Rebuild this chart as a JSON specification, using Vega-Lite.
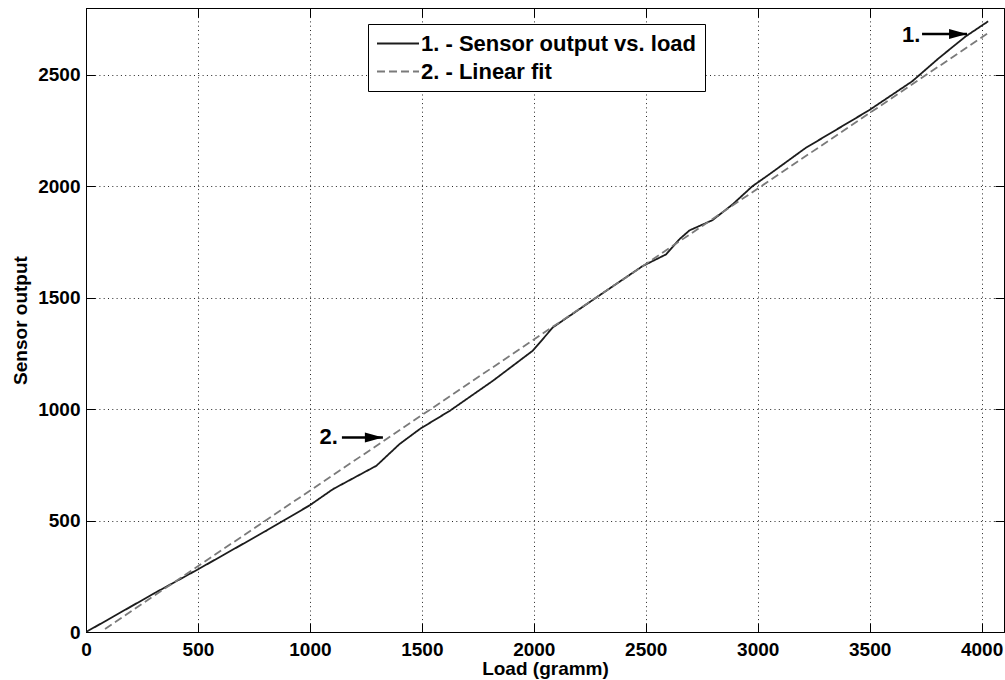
{
  "$schema": "https://vega.github.io/schema/vega-lite/v6.json",
  "autosize": "none",
  "width": 918,
  "height": 624,
  "padding": {"left": 86, "top": 8, "right": 1, "bottom": 48},
  "background": "white",
  "config": {
    "view": {"stroke": "#000", "strokeWidth": 1},
    "font": "Liberation Sans",
    "axis": {
      "labelFont": "Liberation Sans", "labelFontWeight": "bold", "labelFontSize": 19, "labelColor": "#000",
      "titleFont": "Liberation Sans", "titleFontWeight": "bold", "titleFontSize": 19, "titleColor": "#000",
      "domainColor": "#000", "tickColor": "#000", "tickWidth": 1, "tickSize": -9,
      "gridColor": "#000", "gridDash": [1, 3.3], "gridOpacity": 0.85, "gridWidth": 1, "format": "d"
    },
    "legend": {
      "orient": "none", "legendX": 282, "legendY": 16,
      "strokeColor": "#000", "fillColor": "#fff", "padding": 8,
      "labelFont": "Liberation Sans", "labelFontWeight": "bold", "labelFontSize": 22, "labelColor": "#000",
      "symbolType": "M-1,0L3,0", "symbolSize": 441, "symbolStrokeWidth": 1.8,
      "rowPadding": 5, "labelOffset": 22, "labelLimit": 0
    }
  },
  "datasets": {
    "curves": [
      {"load": 0, "out": 0, "series": "1. - Sensor output vs. load"},
      {"load": 92, "out": 52, "series": "1. - Sensor output vs. load"},
      {"load": 300, "out": 171, "series": "1. - Sensor output vs. load"},
      {"load": 500, "out": 281, "series": "1. - Sensor output vs. load"},
      {"load": 806, "out": 455, "series": "1. - Sensor output vs. load"},
      {"load": 1000, "out": 569, "series": "1. - Sensor output vs. load"},
      {"load": 1103, "out": 641, "series": "1. - Sensor output vs. load"},
      {"load": 1297, "out": 746, "series": "1. - Sensor output vs. load"},
      {"load": 1400, "out": 843, "series": "1. - Sensor output vs. load"},
      {"load": 1494, "out": 913, "series": "1. - Sensor output vs. load"},
      {"load": 1624, "out": 992, "series": "1. - Sensor output vs. load"},
      {"load": 1817, "out": 1127, "series": "1. - Sensor output vs. load"},
      {"load": 1995, "out": 1262, "series": "1. - Sensor output vs. load"},
      {"load": 2040, "out": 1314, "series": "1. - Sensor output vs. load"},
      {"load": 2084, "out": 1366, "series": "1. - Sensor output vs. load"},
      {"load": 2278, "out": 1500, "series": "1. - Sensor output vs. load"},
      {"load": 2486, "out": 1642, "series": "1. - Sensor output vs. load"},
      {"load": 2590, "out": 1694, "series": "1. - Sensor output vs. load"},
      {"load": 2650, "out": 1762, "series": "1. - Sensor output vs. load"},
      {"load": 2695, "out": 1802, "series": "1. - Sensor output vs. load"},
      {"load": 2798, "out": 1848, "series": "1. - Sensor output vs. load"},
      {"load": 2887, "out": 1918, "series": "1. - Sensor output vs. load"},
      {"load": 2976, "out": 2000, "series": "1. - Sensor output vs. load"},
      {"load": 3051, "out": 2053, "series": "1. - Sensor output vs. load"},
      {"load": 3214, "out": 2172, "series": "1. - Sensor output vs. load"},
      {"load": 3497, "out": 2341, "series": "1. - Sensor output vs. load"},
      {"load": 3690, "out": 2471, "series": "1. - Sensor output vs. load"},
      {"load": 3809, "out": 2575, "series": "1. - Sensor output vs. load"},
      {"load": 3928, "out": 2672, "series": "1. - Sensor output vs. load"},
      {"load": 4029, "out": 2740, "series": "1. - Sensor output vs. load"},
      {"load": 85, "out": 14, "series": "2. - Linear fit"},
      {"load": 4030, "out": 2688, "series": "2. - Linear fit"}
    ],
    "notes": [
      {"label": "1.", "tx": 3645, "ty": 2679, "ax1": 3734, "ax2": 3935, "ay": 2683},
      {"label": "2.", "tx": 1043, "ty": 873, "ax1": 1143, "ax2": 1326, "ay": 873}
    ]
  },
  "layer": [
    {
      "data": {"name": "curves"},
      "mark": {"type": "line", "strokeWidth": 1.8, "clip": true},
      "encoding": {
        "x": {"field": "load", "type": "quantitative",
              "scale": {"domain": [0, 4100], "nice": false, "zero": false},
              "axis": {"orient": "bottom", "title": "Load (gramm)", "values": [0, 500, 1000, 1500, 2000, 2500, 3000, 3500, 4000],
                       "grid": true, "labelPadding": 17, "labelFlush": false, "labelOverlap": false,
                       "titleY": 36, "titleBaseline": "middle"}},
        "y": {"field": "out", "type": "quantitative",
              "scale": {"domain": [0, 2800], "nice": false, "zero": false},
              "axis": {"orient": "left", "title": "Sensor output", "values": [0, 500, 1000, 1500, 2000, 2500],
                       "grid": true, "labelPadding": 15, "labelOverlap": false,
                       "titleX": -66, "titleBaseline": "middle"}},
        "color": {"field": "series", "type": "nominal",
                  "scale": {"domain": ["1. - Sensor output vs. load", "2. - Linear fit"], "range": ["#1c1c1c", "#7a7a7a"]},
                  "legend": {"title": null}},
        "strokeDash": {"field": "series", "type": "nominal",
                       "scale": {"domain": ["1. - Sensor output vs. load", "2. - Linear fit"], "range": [[1, 0], [8, 4]]},
                       "legend": {"title": null}}
      }
    },
    {
      "data": {"name": "notes"},
      "mark": {"type": "text", "align": "left", "baseline": "middle", "font": "Liberation Sans", "fontWeight": "bold", "fontSize": 22, "color": "#000"},
      "encoding": {
        "x": {"field": "tx", "type": "quantitative",
              "axis": {"orient": "top", "title": null, "labels": false, "grid": false, "values": [0, 500, 1000, 1500, 2000, 2500, 3000, 3500, 4000]}},
        "y": {"field": "ty", "type": "quantitative",
              "axis": {"orient": "right", "title": null, "labels": false, "grid": false, "values": [0, 500, 1000, 1500, 2000, 2500]}},
        "text": {"field": "label"}
      }
    },
    {
      "data": {"name": "notes"},
      "mark": {"type": "rule", "strokeWidth": 2.5, "color": "#000"},
      "encoding": {
        "x": {"field": "ax1", "type": "quantitative", "axis": null},
        "x2": {"field": "ax2"},
        "y": {"field": "ay", "type": "quantitative", "axis": null}
      }
    },
    {
      "data": {"name": "notes"},
      "mark": {"type": "point", "shape": "M0,0L-4,-1.1L-4,1.1Z", "size": 81, "filled": true, "color": "#000", "opacity": 1, "strokeWidth": 0},
      "encoding": {
        "x": {"field": "ax2", "type": "quantitative", "axis": null},
        "y": {"field": "ay", "type": "quantitative", "axis": null}
      }
    }
  ],
  "resolve": {"axis": {"x": "independent", "y": "independent"}}
}
